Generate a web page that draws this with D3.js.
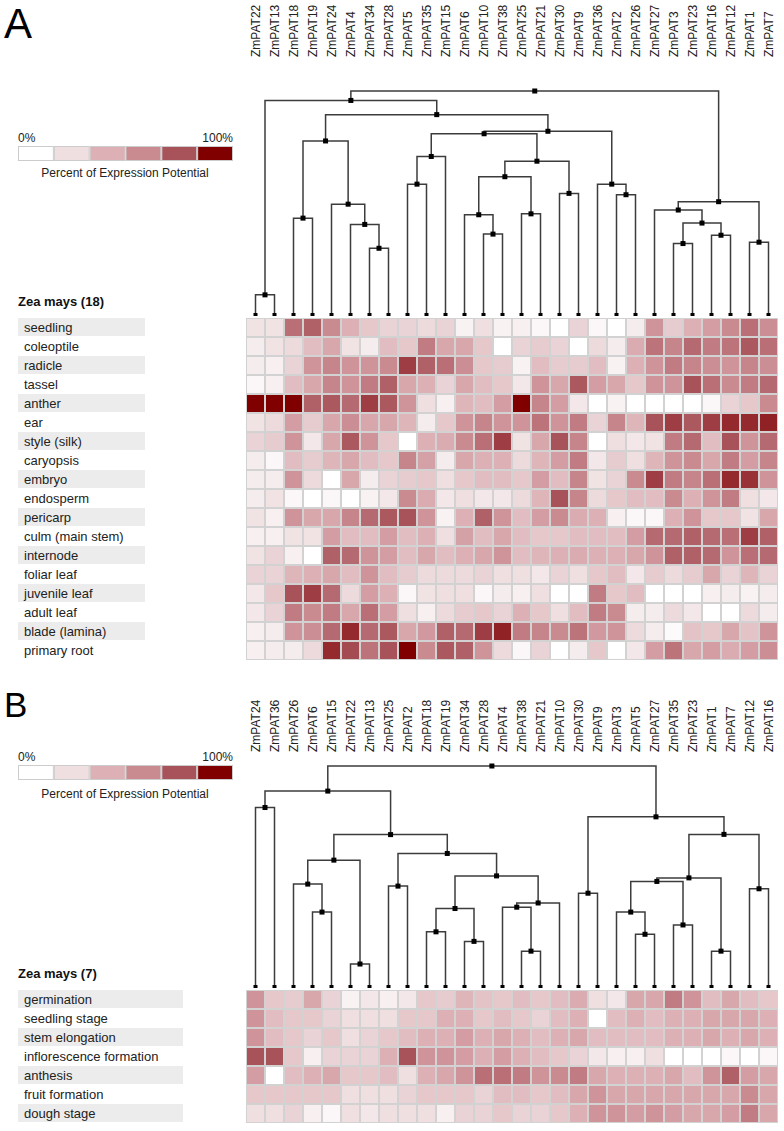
<!DOCTYPE html>
<html><head><meta charset="utf-8">
<script src="https://cdn.jsdelivr.net/npm/d3@7"></script>
<style>
body{margin:0;background:#fff}
svg{display:block}
text{font-family:"Liberation Sans",Arial,sans-serif}
</style>
</head><body>
<svg id="chart" width="784" height="1131"></svg>
<script>
// ---------- colour scale ----------
const colorStops = [0, 20, 40, 60, 80, 100];
const colorRange = ["#ffffff", "#efdfe1", "#dcb0b5", "#c98a90", "#a8535a", "#800000"];
const legendSwatches = ["#ffffff", "#efdfe1", "#dcb0b5", "#c98a90", "#a8535a", "#800000"];
const legendLabels = ["0%", "100%"];
const legendTitle = "Percent of Expression Potential";

// ---------- panel A ----------
const colsA = ["ZmPAT22","ZmPAT13","ZmPAT18","ZmPAT19","ZmPAT24","ZmPAT4","ZmPAT34","ZmPAT28","ZmPAT5","ZmPAT35","ZmPAT15","ZmPAT6","ZmPAT10","ZmPAT38","ZmPAT25","ZmPAT21","ZmPAT30","ZmPAT9","ZmPAT36","ZmPAT2","ZmPAT26","ZmPAT27","ZmPAT3","ZmPAT23","ZmPAT16","ZmPAT12","ZmPAT1","ZmPAT7"];
const rowsA = ["seedling","coleoptile","radicle","tassel","anther","ear","style (silk)","caryopsis","embryo","endosperm","pericarp","culm (main stem)","internode","foliar leaf","juvenile leaf","adult leaf","blade (lamina)","primary root"];
const valuesA = [
  [18,18,70,75,60,40,30,25,25,22,25,8,20,8, 10,5,0,25,5,0,12,55,28,40,50,60,70,58],
  [12,18,22,35,45,18,12,35,30,65,45,45,30,0, 25,28,25,0,22,12,42,68,62,72,65,68,78,70],
  [12,10,25,55,62,55,55,60,85,75,70,58,30,28, 8,35,28,28,35,8,40,55,65,62,58,55,62,58],
  [5,10,35,45,62,55,65,75,45,40,25,45,35,30, 15,55,45,78,50,45,30,55,55,80,70,60,65,72],
  [100,100,100,75,78,72,85,78,55,20,10,38,35,50, 100,62,50,15,0,8,0,0,0,0,5,25,30,60],
  [18,22,50,28,45,58,45,45,38,12,30,55,62,55, 55,68,55,65,25,62,38,80,85,78,85,90,90,92],
  [25,28,55,15,45,78,55,30,0,40,42,60,70,85, 18,45,80,62,0,20,15,18,65,72,35,80,55,72],
  [12,5,35,28,38,45,35,30,62,48,12,45,40,40, 22,38,50,65,15,28,20,38,55,60,45,65,50,62],
  [12,12,55,22,0,45,12,25,28,30,20,30,35,35, 30,50,35,62,18,25,60,85,65,62,70,90,88,55],
  [12,18,5,0,5,0,8,15,60,42,15,20,15,15, 22,38,80,62,22,30,35,35,60,40,55,65,20,15],
  [18,10,55,45,45,62,72,78,80,55,8,40,75,55, 35,50,60,42,40,10,5,5,40,55,30,30,18,45],
  [10,10,18,18,50,35,35,50,35,40,20,48,35,45, 35,30,30,35,35,35,50,72,72,75,72,70,85,75],
  [18,25,10,0,75,72,55,50,35,45,35,40,45,55, 35,38,40,42,40,40,45,55,75,75,72,55,70,72],
  [25,25,38,40,45,35,55,35,28,22,22,22,25,20, 20,15,25,20,30,35,15,28,22,28,45,25,38,25],
  [15,30,80,85,72,22,50,40,5,18,20,20,5,12, 10,20,0,0,65,30,35,0,0,0,10,12,8,12],
  [15,25,65,60,65,45,70,50,20,10,22,28,30,25, 40,30,20,35,65,60,12,12,22,15,0,0,22,12],
  [10,12,55,58,72,90,72,78,45,52,75,72,85,92, 65,62,60,68,52,55,22,12,3,32,30,45,32,55],
  [10,12,12,22,90,82,68,80,100,60,78,75,55,22, 5,25,0,12,30,0,15,50,68,45,50,42,50,58]
];
// merges: [left, right, height]; numbers refer to earlier merges, strings to leaves
const mergesA = [
  ["ZmPAT22","ZmPAT13",9.4],
  ["ZmPAT18","ZmPAT19",43.5],
  ["ZmPAT34","ZmPAT28",30.1],
  ["ZmPAT4",2,40.7],
  ["ZmPAT24",3,49.7],
  [1,4,77.8],
  ["ZmPAT5","ZmPAT35",58.6],
  [6,"ZmPAT15",70.9],
  ["ZmPAT10","ZmPAT38",36.4],
  ["ZmPAT6",8,45.0],
  ["ZmPAT25","ZmPAT21",45.4],
  [9,10,61.9],
  ["ZmPAT30","ZmPAT9",54.5],
  [11,12,68.8],
  [7,13,81.0],
  ["ZmPAT2","ZmPAT26",53.9],
  ["ZmPAT36",15,58.6],
  [14,16,82.1],
  [5,17,89.5],
  [0,18,95.8],
  ["ZmPAT3","ZmPAT23",32.2],
  ["ZmPAT16","ZmPAT12",35.9],
  [20,21,41.3],
  ["ZmPAT27",22,47.1],
  ["ZmPAT1","ZmPAT7",32.8],
  [23,24,50.8],
  [19,25,100]
];

// ---------- panel B ----------
const colsB = ["ZmPAT24","ZmPAT36","ZmPAT26","ZmPAT6","ZmPAT15","ZmPAT22","ZmPAT13","ZmPAT25","ZmPAT2","ZmPAT18","ZmPAT19","ZmPAT34","ZmPAT28","ZmPAT4","ZmPAT38","ZmPAT21","ZmPAT10","ZmPAT30","ZmPAT9","ZmPAT3","ZmPAT5","ZmPAT27","ZmPAT35","ZmPAT23","ZmPAT1","ZmPAT7","ZmPAT12","ZmPAT16"];
const rowsB = ["germination","seedling stage","stem elongation","inflorescence formation","anthesis","fruit formation","dough stage"];
const valuesB = [
  [55,30,28,45,25,8,15,10,15,30,28,38,32,30,35,30,35,42,20,15,45,45,65,55,35,45,35,30],
  [55,35,30,30,25,20,20,20,30,30,40,40,30,35,30,25,35,40,0,35,40,35,40,40,45,45,45,40],
  [55,35,30,25,30,20,25,30,35,40,40,50,40,45,40,35,40,45,35,35,35,35,40,40,45,40,45,40],
  [80,80,30,10,25,25,25,40,80,55,55,50,40,50,40,35,30,25,15,10,10,20,0,0,0,5,0,5],
  [50,0,35,40,45,30,30,35,20,40,45,55,70,70,65,55,60,65,45,40,40,40,45,35,55,75,50,45],
  [30,30,30,30,30,20,20,20,25,30,30,30,25,35,35,30,35,45,55,45,45,45,45,45,45,45,60,45],
  [20,20,25,10,5,20,15,20,20,20,10,25,25,30,25,25,30,40,55,55,50,55,50,45,45,50,65,45]
];
const mergesB = [
  ["ZmPAT24","ZmPAT36",81.3],
  ["ZmPAT6","ZmPAT15",34.2],
  ["ZmPAT26",1,46.8],
  ["ZmPAT22","ZmPAT13",10.8],
  [2,3,57.6],
  ["ZmPAT25","ZmPAT2",45.9],
  ["ZmPAT18","ZmPAT19",25.3],
  ["ZmPAT34","ZmPAT28",21.0],
  [6,7,35.8],
  ["ZmPAT38","ZmPAT21",16.6],
  ["ZmPAT4",9,36.4],
  [10,"ZmPAT10",38.3],
  [8,11,50.5],
  [5,12,60.6],
  [4,13,69.1],
  [0,14,88.7],
  ["ZmPAT30","ZmPAT9",42.7],
  ["ZmPAT5","ZmPAT27",24.2],
  ["ZmPAT3",17,34.2],
  ["ZmPAT35","ZmPAT23",28.4],
  [18,19,48.0],
  ["ZmPAT1","ZmPAT7",16.6],
  [20,21,49.6],
  ["ZmPAT12","ZmPAT16",44.7],
  [22,23,69.2],
  [16,24,77.1],
  [15,25,100]
];

// ---------- drawing ----------
const svg = d3.select("#chart");
const color = d3.scaleLinear().domain(colorStops).range(colorRange).interpolate(d3.interpolateRgb).clamp(true);

function drawPanel(cfg) {
  const g = svg.append("g");
  const x = d3.scaleBand().domain(cfg.cols).range([246, 778]).padding(0);
  const rowH = 19;
  const y = d3.scaleBand().domain(cfg.rows).range([cfg.top, cfg.top + rowH * cfg.rows.length]);
  const hY = d3.scaleLinear().domain([0, 100]).range([cfg.top - 2, cfg.rootY]);

  // panel letter
  g.append("text").attr("x", 4).attr("y", cfg.letterY)
    .attr("font-size", cfg.letterSize).attr("fill", "#000").text(cfg.letter);

  // legend
  const lx = d3.scaleBand().domain(d3.range(legendSwatches.length)).range([18, 233]);
  g.append("text").attr("x", 18).attr("y", cfg.legendTop - 4).attr("font-size", 12).attr("fill", "#222").text(legendLabels[0]);
  g.append("text").attr("x", 233).attr("y", cfg.legendTop - 4).attr("font-size", 12).attr("fill", "#222").attr("text-anchor", "end").text(legendLabels[1]);
  g.selectAll(".sw").data(legendSwatches).join("rect")
    .attr("x", (d, i) => lx(i) + 0.5).attr("y", cfg.legendTop + 0.5)
    .attr("width", lx.bandwidth() - 1).attr("height", 14)
    .attr("fill", d => d).attr("stroke", "#cccccc").attr("stroke-width", 1);
  g.append("text").attr("x", 125).attr("y", cfg.legendTop + cfg.legendTextDy).attr("font-size", 12)
    .attr("fill", "#222").attr("text-anchor", "middle").text(legendTitle);

  // column labels
  g.selectAll(".cl").data(cfg.cols).join("text")
    .attr("transform", d => `translate(${x(d) + x.bandwidth() / 2 + 4.5},${cfg.labelBottom}) rotate(-90)`)
    .attr("font-size", 12).attr("fill", "#222").text(d => d);

  // title and row labels
  g.append("text").attr("x", 18).attr("y", cfg.top - 12).attr("font-size", 13)
    .attr("font-weight", "bold").attr("fill", "#111").text(cfg.title);
  g.selectAll(".band").data(cfg.rows.filter((d, i) => i % 2 === 0)).join("rect")
    .attr("x", 18).attr("y", d => y(d)).attr("width", cfg.bandW - 18).attr("height", rowH - 1)
    .attr("fill", "#ececec");
  g.selectAll(".rl").data(cfg.rows).join("text")
    .attr("x", 24).attr("y", d => y(d) + rowH / 2 + 4.5).attr("font-size", 13)
    .attr("fill", "#222").text(d => d);

  // heatmap
  const cells = [];
  cfg.values.forEach((row, ri) => row.forEach((v, ci) => cells.push({r: cfg.rows[ri], c: cfg.cols[ci], v})));
  g.selectAll(".cell").data(cells).join("rect")
    .attr("x", d => x(d.c) + 0.5).attr("y", d => y(d.r) + 0.5)
    .attr("width", x.bandwidth() - 1).attr("height", rowH - 1)
    .attr("fill", d => color(d.v)).attr("stroke", "#d2d2d2").attr("stroke-width", 1);

  // dendrogram
  const pos = [];
  const cx = c => typeof c === "string" ? x(c) + x.bandwidth() / 2 : pos[c];
  const ch = c => typeof c === "string" ? 0 : cfg.merges[c][2];
  const dg = g.append("g");
  cfg.merges.forEach((m, i) => {
    const [a, b, h] = m;
    const xa = cx(a), xb = cx(b);
    pos[i] = (xa + xb) / 2;
    dg.append("path")
      .attr("d", `M${xa},${hY(ch(a))}V${hY(h)}H${xb}V${hY(ch(b))}`)
      .attr("fill", "none").attr("stroke", "#3c3c3c").attr("stroke-width", 1.5);
  });
  dg.selectAll(".node").data(cfg.merges).join("rect")
    .attr("x", (d, i) => pos[i] - 2.5).attr("y", d => hY(d[2]) - 2.5)
    .attr("width", 5).attr("height", 5).attr("fill", "#000");
  dg.selectAll(".leaf").data(cfg.cols).join("rect")
    .attr("x", d => x(d) + x.bandwidth() / 2 - 2).attr("y", hY(0) - 3)
    .attr("width", 4).attr("height", 3).attr("fill", "#000");
}

drawPanel({letter: "A", letterY: 38, letterSize: 42, legendTop: 146, legendTextDy: 31,
  labelBottom: 57, rootY: 91, top: 318, title: "Zea mays (18)", bandW: 145,
  cols: colsA, rows: rowsA, values: valuesA, merges: mergesA});
drawPanel({letter: "B", letterY: 717, letterSize: 35, legendTop: 765, legendTextDy: 33,
  labelBottom: 752, rootY: 766, top: 990, title: "Zea mays (7)", bandW: 183,
  cols: colsB, rows: rowsB, values: valuesB, merges: mergesB});
</script>
</body></html>
